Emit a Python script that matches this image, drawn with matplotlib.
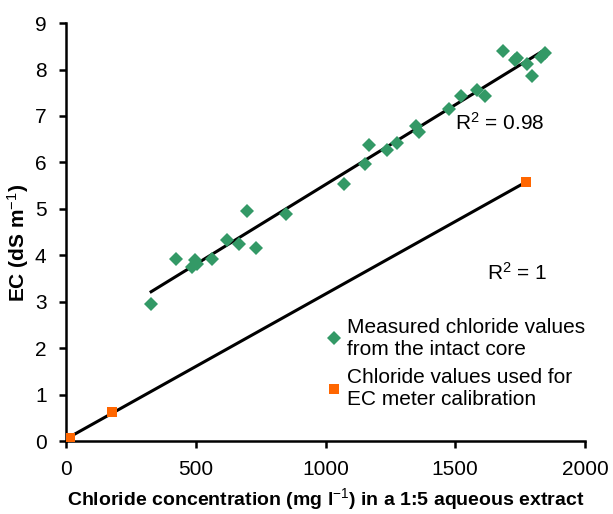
import numpy as np
import matplotlib
matplotlib.use("Agg")
import matplotlib.pyplot as plt

plt.rc("font", family="Liberation Sans", size=15)
plt.rc("mathtext", fontset="custom", rm="Liberation Sans", it="Liberation Sans:italic",
       bf="Liberation Sans:bold")

# measured chloride values from the intact core
core_cl = [328, 424, 484, 497, 504, 561, 622, 668, 696, 731, 847,
           1072, 1152, 1169, 1236, 1274, 1348, 1359, 1476, 1521, 1583, 1615,
           1685, 1730, 1739, 1775, 1797, 1829, 1846]
core_ec = [2.95, 3.93, 3.74, 3.90, 3.81, 3.91, 4.34, 4.24, 4.96, 4.16, 4.89,
           5.53, 5.96, 6.37, 6.27, 6.41, 6.79, 6.65, 7.16, 7.44, 7.56, 7.43,
           8.40, 8.20, 8.24, 8.13, 7.87, 8.28, 8.35]

# chloride values used for EC meter calibration
calib_cl = [15, 177, 1771]
calib_ec = [0.06, 0.63, 5.57]

green = "#339966"
orange = "#ff6600"

fig = plt.figure(figsize=(6.13, 5.14), dpi=100)
ax = fig.add_axes([0.1077, 0.142, 0.8466, 0.813])

# trend lines
p1 = np.polyfit(core_cl, core_ec, 1)
x1 = np.array([min(core_cl), max(core_cl)])
ax.plot(x1, np.polyval(p1, x1), color="black", lw=2.2, zorder=2)
p2 = np.polyfit(calib_cl, calib_ec, 1)
x2 = np.array([0, max(calib_cl)])
ax.plot(x2, np.polyval(p2, x2), color="black", lw=2.2, zorder=2)

ax.plot(core_cl, core_ec, "D", color=green, ms=7, mew=0, zorder=3,
        label="Measured chloride values\nfrom the intact core")
ax.plot(calib_cl, calib_ec, "s", color=orange, ms=7, mew=0, zorder=3,
        label="Chloride values used for\nEC meter calibration")

ax.text(1499, 6.85, r"R$^2$ = 0.98", va="center", ha="left", fontsize=15)
ax.text(1623, 3.62, r"R$^2$ = 1", va="center", ha="left", fontsize=15)

ax.set_xlim(0, 2000)
ax.set_ylim(0, 9)
ax.set_xticks(np.arange(0, 2001, 500))
ax.set_yticks(np.arange(0, 10, 1))
for s in ["top", "right"]:
    ax.spines[s].set_visible(False)
for s in ["left", "bottom"]:
    ax.spines[s].set_linewidth(1.8)
ax.tick_params(direction="out", length=5, width=1.8, pad=9)

ax.set_xlabel(r"Chloride concentration (mg l$^{-1}$) in a 1:5 aqueous extract",
              fontsize=14, fontweight="bold", labelpad=5)
ax.set_ylabel(r"EC (dS m$^{-1}$)", fontsize=15, fontweight="bold")
ax.yaxis.set_label_coords(-0.067, 0.475)

ax.legend(loc="upper left", bbox_to_anchor=(0.505, 0.295), frameon=False,
          borderpad=0, handlelength=0.6, handletextpad=0.3, labelspacing=0.45,
          fontsize=15, borderaxespad=0)

fig.savefig("out.png", dpi=100)
